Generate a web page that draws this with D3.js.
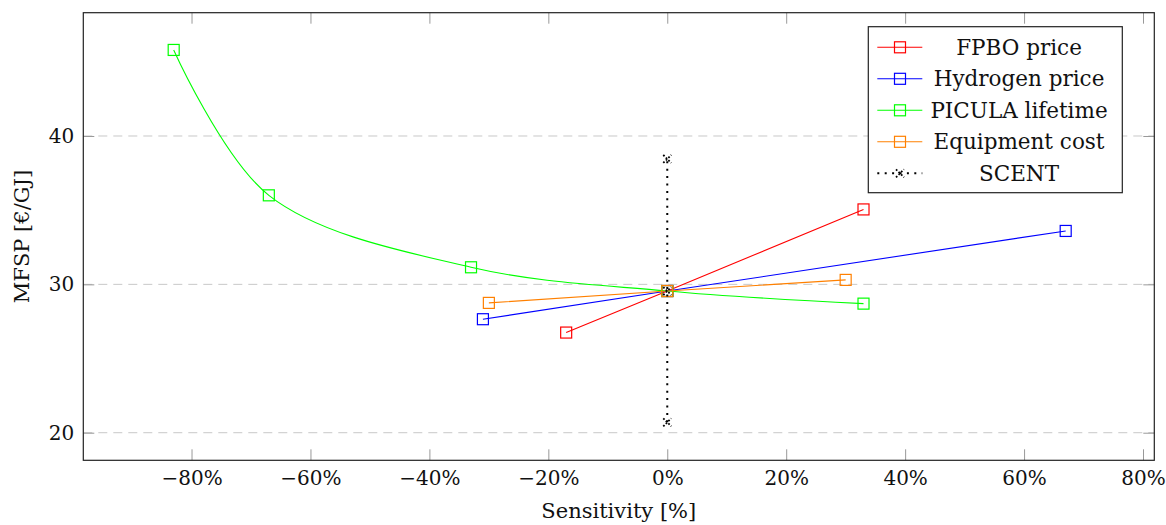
<!DOCTYPE html>
<html>
<head>
<meta charset="utf-8">
<script src="https://cdn.jsdelivr.net/npm/d3@7"></script>
<style>
  body { margin: 0; background: #fff; }
  text { font-family: "DejaVu Serif", serif; fill: #111; }
</style>
</head>
<body>
<div id="chart"></div>
<script>
// Series data (sensitivity % vs MFSP €/GJ)
const seriesNames = ["FPBO price", "Hydrogen price", "PICULA lifetime", "Equipment cost", "SCENT"];
const fpboX = [-17, 0, 33];
const fpboY = [26.75, 29.55, 35.05];
const hydrogenX = [-31, 0, 67];
const hydrogenY = [27.65, 29.55, 33.6];
const piculaX = [-83, -67, -33, 0, 33];
const piculaY = [45.8, 36.0, 31.15, 29.55, 28.7];
const equipX = [-30, 0, 30];
const equipY = [28.75, 29.55, 30.3];
const scentX = [0, 0, 0];
const scentY = [20.7, 29.55, 38.45];
const xTicks = [-80, -60, -40, -20, 0, 20, 40, 60, 80];
const yTicks = [20, 30, 40];

const colors = ["#ff0000", "#0000ff", "#00ff00", "#ff8000", "#000000"];

const W = 1166, H = 525;
const margin = { top: 12.7, right: 11.7, bottom: 64.7, left: 83.3 };
const width = W - margin.left - margin.right;
const height = H - margin.top - margin.bottom;

const svg = d3.select("#chart").append("svg")
    .attr("width", W)
    .attr("height", H);

const g = svg.append("g")
    .attr("transform", "translate(" + margin.left + "," + margin.top + ")");

const x = d3.scaleLinear().domain([-98.2, 81.9]).range([0, width]);
const y = d3.scaleLinear().domain([18.14, 48.31]).range([height, 0]);

// grid lines
g.selectAll(".grid")
    .data(yTicks)
    .enter().append("line")
    .attr("class", "grid")
    .attr("x1", 0).attr("x2", width)
    .attr("y1", d => y(d)).attr("y2", d => y(d))
    .attr("stroke", "#c8c8c8")
    .attr("stroke-width", 1)
    .attr("stroke-dasharray", "9,6");

// axes (ticks inside, on all four sides)
const tickLen = 11;
const fmtPct = d => (d < 0 ? "\u2212" + Math.abs(d) : d) + "%";

const xAxisB = d3.axisBottom(x).tickValues(xTicks).tickSize(-tickLen).tickPadding(11).tickFormat(fmtPct);
const xAxisT = d3.axisTop(x).tickValues(xTicks).tickSize(-tickLen).tickFormat("");
const yAxisL = d3.axisLeft(y).tickValues(yTicks).tickSize(-tickLen).tickPadding(9);
const yAxisR = d3.axisRight(y).tickValues(yTicks).tickSize(-tickLen).tickFormat("");

function styleAxis(sel) {
    sel.select(".domain").remove();
    sel.selectAll(".tick line").attr("stroke", "#999");
    sel.selectAll(".tick text")
        .style("font-family", "'DejaVu Serif', serif")
        .style("font-size", "20px")
        .attr("fill", "#111");
}

g.append("g").attr("transform", "translate(0," + height + ")").call(xAxisB).call(styleAxis);
g.append("g").call(xAxisT).call(styleAxis);
g.append("g").call(yAxisL).call(styleAxis);
g.append("g").attr("transform", "translate(" + width + ",0)").call(yAxisR).call(styleAxis);

// frame
g.append("rect")
    .attr("width", width).attr("height", height)
    .attr("fill", "none")
    .attr("stroke", "#222")
    .attr("stroke-width", 1.2);

// series
const series = [
    { xs: fpboX, ys: fpboY, smooth: false },
    { xs: hydrogenX, ys: hydrogenY, smooth: false },
    { xs: piculaX, ys: piculaY, smooth: true },
    { xs: equipX, ys: equipY, smooth: false },
    { xs: scentX, ys: scentY, smooth: false, dotted: true }
];

const ms = 11;

series.forEach((s, i) => {
    const pts = s.xs.map((v, j) => [v, s.ys[j]]);
    const line = d3.line()
        .x(d => x(d[0]))
        .y(d => y(d[1]))
        .curve(s.smooth ? d3.curveCatmullRom.alpha(0.5) : d3.curveLinear);

    g.append("path")
        .datum(pts)
        .attr("d", line)
        .attr("fill", "none")
        .attr("stroke", colors[i])
        .attr("stroke-width", s.dotted ? 2 : 1.1)
        .attr("stroke-dasharray", s.dotted ? "2,5.4" : null);

    if (s.dotted) {
        g.selectAll(".xm" + i)
            .data(pts)
            .enter().append("path")
            .attr("d", d => {
                const cx = x(d[0]), cy = y(d[1]), r = 4;
                return "M" + (cx - r) + "," + (cy - r) + "L" + (cx + r) + "," + (cy + r) +
                    "M" + (cx - r) + "," + (cy + r) + "L" + (cx + r) + "," + (cy - r);
            })
            .attr("stroke", "#000")
            .attr("stroke-width", 1.8)
            .attr("stroke-dasharray", "1.8,1.8");
    } else {
        g.selectAll(".m" + i)
            .data(pts)
            .enter().append("rect")
            .attr("x", d => x(d[0]) - ms / 2)
            .attr("y", d => y(d[1]) - ms / 2)
            .attr("width", ms).attr("height", ms)
            .attr("fill", "none")
            .attr("stroke", colors[i])
            .attr("stroke-width", 1.2);
    }
});

// legend
const legend = svg.append("g")
    .attr("class", "legend")
    .attr("transform", "translate(868.3,26.7)");

legend.append("rect")
    .attr("width", 254).attr("height", 166)
    .attr("fill", "#fff")
    .attr("stroke", "#222")
    .attr("stroke-width", 1.2);

const items = legend.selectAll(".legend-item")
    .data(seriesNames)
    .enter().append("g")
    .attr("class", "legend-item")
    .attr("transform", (d, i) => "translate(0," + (20.6 + i * 31.5) + ")");

items.append("line")
    .attr("x1", 9).attr("x2", 54)
    .attr("stroke", (d, i) => colors[i])
    .attr("stroke-width", (d, i) => i === 4 ? 2 : 1.1)
    .attr("stroke-dasharray", (d, i) => i === 4 ? "2,5.4" : null);

items.filter((d, i) => i < 4).append("rect")
    .attr("x", 31.7 - ms / 2).attr("y", -ms / 2)
    .attr("width", ms).attr("height", ms)
    .attr("fill", "none")
    .attr("stroke", (d, i) => colors[i])
    .attr("stroke-width", 1.2);

items.filter((d, i) => i === 4).append("path")
    .attr("d", "M27.7,-4L35.7,4M27.7,4L35.7,-4")
    .attr("stroke", "#000")
    .attr("stroke-width", 1.8)
    .attr("stroke-dasharray", "1.8,1.8");

items.append("text")
    .attr("x", 150.7)
    .attr("dy", "0.35em")
    .attr("text-anchor", "middle")
    .style("font-size", "21.5px")
    .text(d => d);

// axis labels
svg.append("text")
    .attr("x", margin.left + width / 2)
    .attr("y", 518)
    .attr("text-anchor", "middle")
    .style("font-size", "21px")
    .text("Sensitivity [%]");

svg.append("text")
    .attr("transform", "translate(29," + (margin.top + height / 2) + ") rotate(-90)")
    .attr("text-anchor", "middle")
    .style("font-size", "21px")
    .text("MFSP [\u20AC/GJ]");
</script>
</body>
</html>
